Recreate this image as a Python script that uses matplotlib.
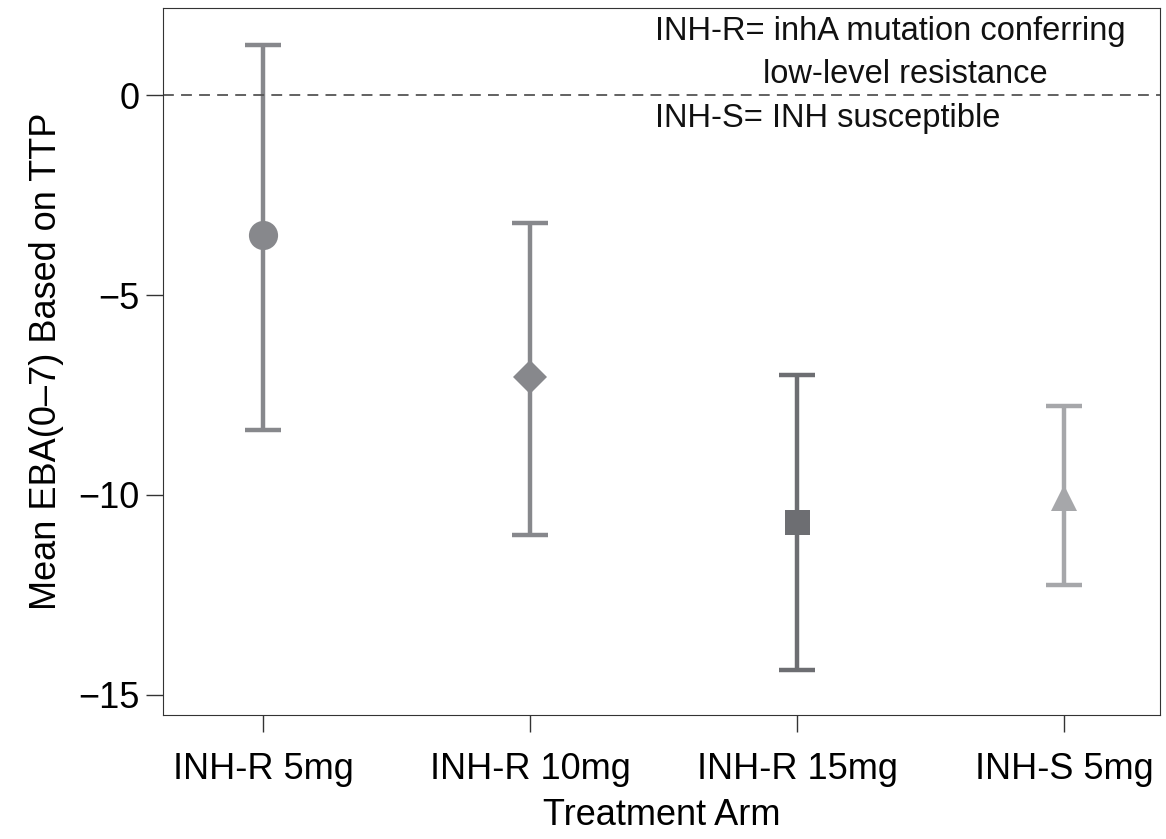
import matplotlib.pyplot as plt
import numpy as np

plt.rcParams['font.family'] = ['Liberation Sans', 'DejaVu Sans']

arms = ['INH-R 5mg', 'INH-R 10mg', 'INH-R 15mg', 'INH-S 5mg']
means = [-3.5, -7.05, -10.68, -10.08]
upper = [1.25, -3.2, -7.0, -7.78]
lower = [-8.38, -11.0, -14.38, -12.25]
markers = ['o', 'D', 's', '^']
colors = ['#87888c', '#87888c', '#6d6e72', '#a6a7aa']
msizes = [21, 17, 18, 19]

fig = plt.figure(figsize=(11.66, 8.39), dpi=100)
ax = fig.add_axes([0.14, 0.148, 0.855, 0.8425])

x = np.arange(1, len(arms) + 1)
for i in range(len(arms)):
    err = [[means[i] - lower[i]], [upper[i] - means[i]]]
    ax.errorbar(x[i], means[i], yerr=err, fmt='none', ecolor=colors[i],
                elinewidth=3.2, capsize=13, capthick=3.2)
    ax.plot(x[i], means[i], marker=markers[i], color=colors[i],
            markersize=msizes[i], markeredgewidth=0, linestyle='none')

ax.axhline(0, color='#555555', linestyle=(0, (6, 4)), linewidth=1.3)

ax.set_xlim(0.625, 4.36)
ax.set_ylim(-15.5, 2.18)
ax.set_xticks(x)
ax.set_xticklabels(arms)
ax.set_yticks([0, -5, -10, -15])
ax.set_yticklabels(['0', '\u22125', '\u221210', '\u221215'])
ax.tick_params(labelsize=26, length=12, width=1, color='#333333')
ax.tick_params(axis='x', pad=15)
ax.tick_params(axis='y', pad=5)
ax.set_xlabel('Treatment Arm', fontsize=26, labelpad=8)
ax.set_ylabel('Mean EBA(0\u20137) Based on TTP', fontsize=26, labelpad=10)
for s in ax.spines.values():
    s.set_color('#333333')

ax.text(2.468, 1.6, 'INH-R= inhA mutation conferring', fontsize=23.5,
        va='center', ha='left', color='#111111')
ax.text(2.873, 0.52, 'low-level resistance', fontsize=23.5,
        va='center', ha='left', color='#111111')
ax.text(2.468, -0.58, 'INH-S= INH susceptible', fontsize=23.5,
        va='center', ha='left', color='#111111')

fig.savefig('out.png', dpi=100)
